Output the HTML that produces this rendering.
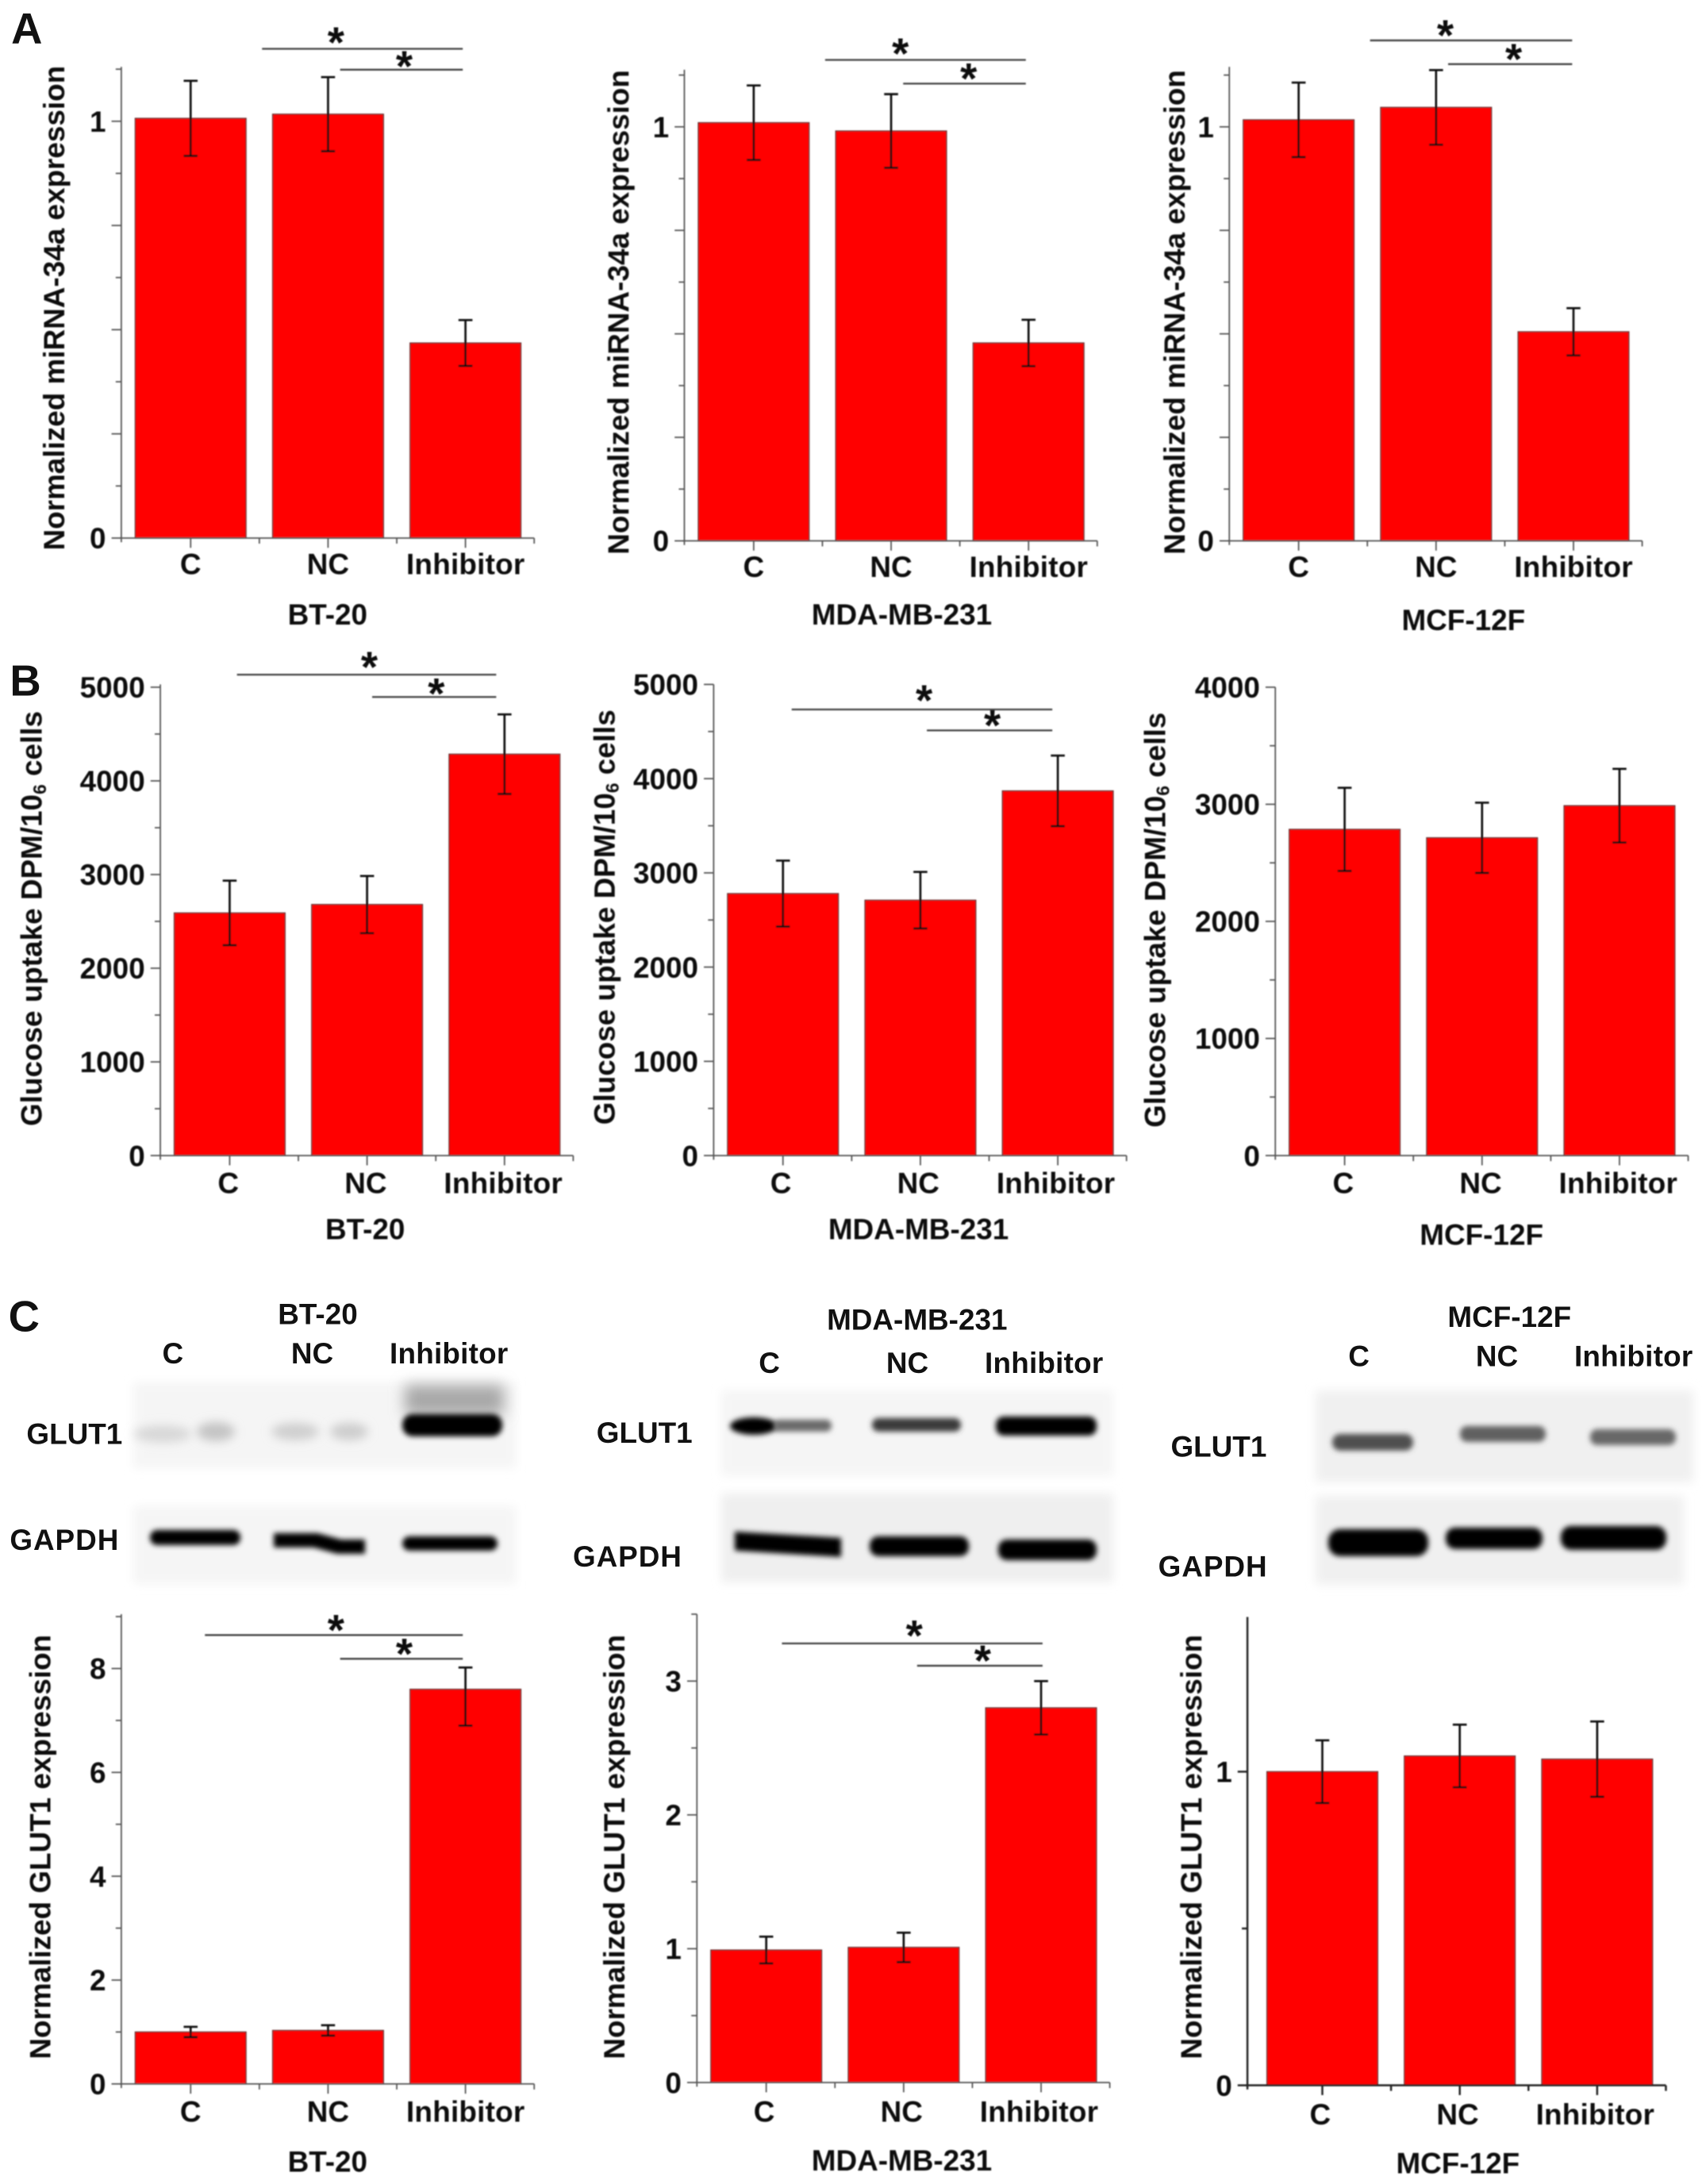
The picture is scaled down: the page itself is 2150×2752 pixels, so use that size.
<!DOCTYPE html>
<html lang="en">
<head>
<meta charset="utf-8">
<title>miRNA-34a and GLUT1 figure</title>
<style>
html,body{margin:0;padding:0;background:#fff;width:2150px;height:2752px;overflow:hidden}
svg{display:block}
text{font-family:"Liberation Sans",sans-serif;font-weight:bold;fill:#111}
</style>
</head>
<body>
<svg id="figure" xmlns="http://www.w3.org/2000/svg" width="2150" height="2752" viewBox="0 0 1224 1566.8">
<defs>
<filter id="soft" x="-5%" y="-5%" width="110%" height="110%"><feGaussianBlur stdDeviation="0.4"/></filter>
<filter id="b3" x="-30%" y="-150%" width="160%" height="400%"><feGaussianBlur stdDeviation="3.5"/></filter>
<filter id="b5" x="-30%" y="-150%" width="160%" height="400%"><feGaussianBlur stdDeviation="6"/></filter>
<filter id="b8" x="-30%" y="-60%" width="160%" height="220%"><feGaussianBlur stdDeviation="9"/></filter>
</defs>

<g font-size="31">
<text x="8" y="31">A</text>
<text x="7" y="499">B</text>
<text x="6" y="955">C</text>
</g>

<g id="blots" transform="scale(0.56930)">
 <g>
  <rect x="168" y="1742" width="482" height="108" fill="#f5f5f5" filter="url(#b5)"/>
  <rect x="510" y="1745" width="125" height="38" fill="#a8a8a8" filter="url(#b8)"/>
  <ellipse cx="205" cy="1807" rx="36" ry="11" fill="#d8d8d8" filter="url(#b5)"/>
  <ellipse cx="272" cy="1804" rx="24" ry="12" fill="#c4c4c4" filter="url(#b5)"/>
  <ellipse cx="372" cy="1804" rx="30" ry="11" fill="#cfcfcf" filter="url(#b5)"/>
  <ellipse cx="440" cy="1804" rx="24" ry="11" fill="#cdcdcd" filter="url(#b5)"/>
  <rect x="507" y="1782" width="126" height="28" rx="13" fill="#000" filter="url(#b3)"/>
 </g>
 <g>
  <rect x="168" y="1898" width="482" height="98" fill="#f5f5f5" filter="url(#b5)"/>
  <rect x="189" y="1928" width="114" height="19" rx="9" fill="#000" filter="url(#b3)"/>
  <path d="M345 1932 H400 L430 1940 H460 V1958 H425 L395 1950 H345 Z" fill="#000" filter="url(#b3)"/>
  <rect x="507" y="1936" width="120" height="18" rx="9" fill="#000" filter="url(#b3)"/>
 </g>
 <g>
  <rect x="909" y="1752" width="494" height="108" fill="#f5f5f5" filter="url(#b5)"/>
  <ellipse cx="950" cy="1797" rx="30" ry="11" fill="#000" filter="url(#b3)"/>
  <rect x="975" y="1789" width="73" height="15" rx="7" fill="#6a6a6a" filter="url(#b3)"/>
  <rect x="1099" y="1787" width="112" height="17" rx="8" fill="#3a3a3a" filter="url(#b3)"/>
  <rect x="1255" y="1785" width="127" height="24" rx="10" fill="#000" filter="url(#b3)"/>
 </g>
 <g>
  <rect x="909" y="1882" width="494" height="112" fill="#efefef" filter="url(#b5)"/>
  <path d="M926 1930 L1060 1938 V1962 L926 1954 Z" fill="#000" filter="url(#b3)"/>
  <rect x="1096" y="1936" width="125" height="25" rx="11" fill="#000" filter="url(#b3)"/>
  <rect x="1258" y="1940" width="124" height="26" rx="11" fill="#000" filter="url(#b3)"/>
 </g>
 <g>
  <rect x="1658" y="1752" width="476" height="116" fill="#f0f0f0" filter="url(#b5)"/>
  <rect x="1679" y="1807" width="102" height="21" rx="10" fill="#505050" filter="url(#b3)"/>
  <rect x="1840" y="1797" width="108" height="20" rx="9" fill="#606060" filter="url(#b3)"/>
  <rect x="2004" y="1801" width="108" height="20" rx="9" fill="#686868" filter="url(#b3)"/>
 </g>
 <g>
  <rect x="1658" y="1885" width="464" height="112" fill="#f0f0f0" filter="url(#b5)"/>
  <rect x="1674" y="1927" width="126" height="34" rx="15" fill="#000" filter="url(#b3)"/>
  <rect x="1822" y="1925" width="122" height="27" rx="12" fill="#000" filter="url(#b3)"/>
  <rect x="1967" y="1923" width="133" height="30" rx="13" fill="#000" filter="url(#b3)"/>
 </g>
</g>

<g font-size="21">
<text x="228" y="950" text-anchor="middle">BT-20</text>
<text x="124" y="978" text-anchor="middle">C</text>
<text x="224" y="978" text-anchor="middle">NC</text>
<text x="322" y="978" text-anchor="middle" textLength="85">Inhibitor</text>
<text x="19" y="1036">GLUT1</text>
<text x="7" y="1112" textLength="78">GAPDH</text>

<text x="658" y="954" text-anchor="middle">MDA-MB-231</text>
<text x="552" y="985" text-anchor="middle">C</text>
<text x="651" y="985" text-anchor="middle">NC</text>
<text x="749" y="985" text-anchor="middle" textLength="85">Inhibitor</text>
<text x="428" y="1035">GLUT1</text>
<text x="411" y="1124" textLength="78">GAPDH</text>

<text x="1083" y="952" text-anchor="middle">MCF-12F</text>
<text x="975" y="980" text-anchor="middle">C</text>
<text x="1074" y="980" text-anchor="middle">NC</text>
<text x="1172" y="980" text-anchor="middle" textLength="85">Inhibitor</text>
<text x="840" y="1045">GLUT1</text>
<text x="831" y="1131" textLength="78">GAPDH</text>
</g>

<g id="charts" filter="url(#soft)"></g>
</svg>

<script>
const categories = ['C', 'NC', 'Inhibitor'];
const yTitleMirna = 'Normalized miRNA-34a expression';
const yTitleGlut = 'Normalized GLUT1 expression';

const a1Values = [1.007, 1.017, 0.468];
const a1Errors = [0.09, 0.089, 0.055];
const a1TickLabels = [0, 1];
const a2Values = [1.01, 0.99, 0.478];
const a2Errors = [0.09, 0.089, 0.056];
const a2TickLabels = [0, 1];
const a3Values = [1.017, 1.047, 0.505];
const a3Errors = [0.09, 0.09, 0.057];
const a3TickLabels = [0, 1];

const b1Values = [2590, 2680, 4285];
const b1Errors = [345, 305, 425];
const b1TickLabels = [0, 1000, 2000, 3000, 4000, 5000];
const b2Values = [2780, 2710, 3870];
const b2Errors = [350, 300, 375];
const b2TickLabels = [0, 1000, 2000, 3000, 4000, 5000];
const b3Values = [2786, 2714, 2988];
const b3Errors = [355, 300, 315];
const b3TickLabels = [0, 1000, 2000, 3000, 4000];

const c1Values = [1.0, 1.03, 7.6];
const c1Errors = [0.1, 0.1, 0.42];
const c1ErrorsLow = [0.1, 0.1, 0.7];
const c1TickLabels = [0, 2, 4, 6, 8];
const c2Values = [0.99, 1.01, 2.8];
const c2Errors = [0.1, 0.11, 0.2];
const c2TickLabels = [0, 1, 2, 3];
const c3Values = [1.0, 1.05, 1.04];
const c3Errors = [0.1, 0.1, 0.12];
const c3TickLabels = [0, 1];

const panels = [
 {id:'a1', values:a1Values, errors:a1Errors, ticks:a1TickLabels, minor:0.125, axisX:87, baseY:386, topY:48, unitPx:299, barOff:10, labelDx:0, catY:412, title:'BT-20', titleX:235, titleY:448, yTitle:yTitleMirna, yTitleX:46, yTitleY:221,
  brackets:[[188,332,35,241,27],[244,332,50,290,44]]},
 {id:'a2', values:a2Values, errors:a2Errors, ticks:a2TickLabels, minor:0.125, axisX:491, baseY:388, topY:50, unitPx:297, barOff:10, labelDx:0, catY:414, title:'MDA-MB-231', titleX:647, titleY:448, yTitle:yTitleMirna, yTitleX:451, yTitleY:224,
  brackets:[[592,736,43,646,35],[648,736,60,695,53]]},
 {id:'a3', values:a3Values, errors:a3Errors, ticks:a3TickLabels, minor:0.125, axisX:882, baseY:388, topY:48, unitPx:297, barOff:10, labelDx:0, catY:414, title:'MCF-12F', titleX:1050, titleY:452, yTitle:yTitleMirna, yTitleX:850, yTitleY:224,
  brackets:[[983,1128,29,1037,22],[1039,1128,46,1086,39]]},
 {id:'b1', values:b1Values, errors:b1Errors, ticks:b1TickLabels, minor:500, axisX:115, baseY:829, topY:491, unitPx:0.0672, barOff:10, labelDx:-1, catY:856, title:'BT-20', titleX:262, titleY:889, yTitle:'glucose', yTitleX:30, yTitleY:659,
  brackets:[[170,356,484,265,475],[267,356,500,313,494]]},
 {id:'b2', values:b2Values, errors:b2Errors, ticks:b2TickLabels, minor:500, axisX:512, baseY:829, topY:491, unitPx:0.0676, barOff:10, labelDx:-1.5, catY:856, title:'MDA-MB-231', titleX:659, titleY:889, yTitle:'glucose', yTitleX:441, yTitleY:658,
  brackets:[[568,755,509,663,499],[665,755,524,712,517]]},
 {id:'b3', values:b3Values, errors:b3Errors, ticks:b3TickLabels, minor:500, axisX:915, baseY:829, topY:493, unitPx:0.084, barOff:10, labelDx:-1, catY:856, title:'MCF-12F', titleX:1063, titleY:893, yTitle:'glucose', yTitleX:836, yTitleY:660,
  brackets:[]},
 {id:'c1', values:c1Values, errors:c1Errors, errorsLow:c1ErrorsLow, ticks:c1TickLabels, minor:1, axisX:87, baseY:1495, topY:1158, unitPx:37.25, barOff:10, labelDx:0, catY:1522, title:'BT-20', titleX:235, titleY:1558, yTitle:yTitleGlut, yTitleX:36, yTitleY:1325,
  brackets:[[147,332,1173,241,1166],[244,332,1190,290,1183]]},
 {id:'c2', values:c2Values, errors:c2Errors, ticks:c2TickLabels, minor:0.5, axisX:500, baseY:1494, topY:1158, unitPx:96, barOff:10, labelDx:-1.5, catY:1522, title:'MDA-MB-231', titleX:647, titleY:1557, yTitle:yTitleGlut, yTitleX:448, yTitleY:1325,
  brackets:[[561,748,1179,656,1170],[658,748,1195,705,1188]]},
 {id:'c3', values:c3Values, errors:c3Errors, ticks:c3TickLabels, minor:0.5, axisX:895, baseY:1496, topY:1160, unitPx:225, barOff:14, labelDx:-1.5, catY:1524, title:'MCF-12F', titleX:1046, titleY:1559, yTitle:yTitleGlut, yTitleX:862, yTitleY:1325, dark:true,
  brackets:[]}
];

const NS = 'http://www.w3.org/2000/svg';
const BAND = 98.6;
const BAR_W = 79.5;
const root = document.getElementById('charts');

function make(tag, attrs, parent, content) {
  const node = document.createElementNS(NS, tag);
  for (const k in attrs) node.setAttribute(k, attrs[k]);
  if (content !== undefined) node.textContent = content;
  parent.appendChild(node);
  return node;
}
function xCenter(p, i) { return p.axisX + p.barOff + BAR_W / 2 + i * BAND; }
function yPos(p, v) { return p.baseY - v * p.unitPx; }

panels.forEach(function (p) {
  const g = make('g', {}, root);
  
  
  const axisColor = p.dark ? '#222' : '#555';
  const axisW = p.dark ? 1.4 : 1;

  // bars
  p.values.forEach(function (v, i) {
    const top = yPos(p, v);
    const bar = make('rect', {x: xCenter(p, i) - BAR_W / 2, y: top, width: BAR_W, height: p.baseY - top, fill: '#ff0000', stroke: '#6a3030', 'stroke-width': 0.8}, g);
    
    
  });

  // y axis
  const yAxis = make('line', {x1: p.axisX, x2: p.axisX, y1: p.topY, y2: p.baseY + 3, stroke: axisColor, 'stroke-width': axisW}, g);
  
  

  // x axis
  const xEnd = xCenter(p, 2) + BAND / 2;
  const xAxis = make('line', {x1: p.axisX - 1, x2: xEnd, y1: p.baseY, y2: p.baseY, stroke: axisColor, 'stroke-width': axisW}, g);
  
  

  // y ticks
  const maxV = (p.baseY - p.topY) / p.unitPx;
  for (let n = 0; n * p.minor <= maxV + 1e-6; n++) {
    const v = n * p.minor;
    const isMajor = p.ticks.some(function (t) { return Math.abs(t - v) < 1e-6; }) || (n % 2 === 0 && p.id[0] === 'a');
    const t = make('line', {x1: p.axisX - (isMajor ? 7 : 4), x2: p.axisX, y1: yPos(p, v), y2: yPos(p, v), stroke: axisColor, 'stroke-width': axisW}, g);
    
    
  }
  p.ticks.forEach(function (v) {
    const y = yPos(p, v) + 7.5;
    const lbl = make('text', {x: p.axisX - 11, y: y, 'text-anchor': 'end', 'font-size': 21}, g, String(v));
    
    
  });

  // x ticks and category labels
  categories.forEach(function (c, i) {
    const cx = xCenter(p, i);
    const major = make('line', {x1: cx, x2: cx, y1: p.baseY, y2: p.baseY + 7, stroke: axisColor, 'stroke-width': axisW}, g);
    
    
    const minor = make('line', {x1: cx + BAND / 2, x2: cx + BAND / 2, y1: p.baseY, y2: p.baseY + 4, stroke: axisColor, 'stroke-width': axisW}, g);
    
    
    const attrs = {x: cx + p.labelDx, y: p.catY, 'text-anchor': 'middle', 'font-size': 21};
    if (c === 'Inhibitor') attrs.textLength = 85;
    const lab = make('text', attrs, g, c);
    
    
  });

  // error bars
  p.values.forEach(function (v, i) {
    const cx = xCenter(p, i);
    const low = p.errorsLow ? p.errorsLow[i] : p.errors[i];
    const hi = yPos(p, v + p.errors[i]);
    const lo = yPos(p, v - low);
    const eb = make('path', {d: 'M' + (cx - 5) + ' ' + hi + 'H' + (cx + 5) + 'M' + cx + ' ' + hi + 'V' + lo + 'M' + (cx - 5) + ' ' + lo + 'H' + (cx + 5), fill: 'none', stroke: '#111', 'stroke-width': 1.5}, g);
    
    
  });

  // significance brackets
  p.brackets.forEach(function (b) {
    const ln = make('line', {x1: b[0], x2: b[1], y1: b[2], y2: b[2], stroke: '#444', 'stroke-width': 1.3}, g);
    
    
    const st = make('text', {x: b[3], y: b[4] + 14, 'text-anchor': 'middle', 'font-size': 31}, g, '*');
    
    
  });

  // chart title below the axis
  const title = make('text', {x: p.titleX, y: p.titleY, 'text-anchor': 'middle', 'font-size': 21}, g, p.title);
  
  

  // y axis title
  const yt = make('text', {transform: 'translate(' + p.yTitleX + ',' + p.yTitleY + ') rotate(-90)', 'text-anchor': 'middle', 'font-size': 21}, g);
  
  
  if (p.yTitle === 'glucose') {
    make('tspan', {}, yt, 'Glucose uptake DPM/10');
    make('tspan', {'font-size': 13, dy: 3}, yt, '6');
    make('tspan', {dy: -3}, yt, ' cells');
  } else {
    yt.textContent = p.yTitle;
  }
});
</script>
</body>
</html>
